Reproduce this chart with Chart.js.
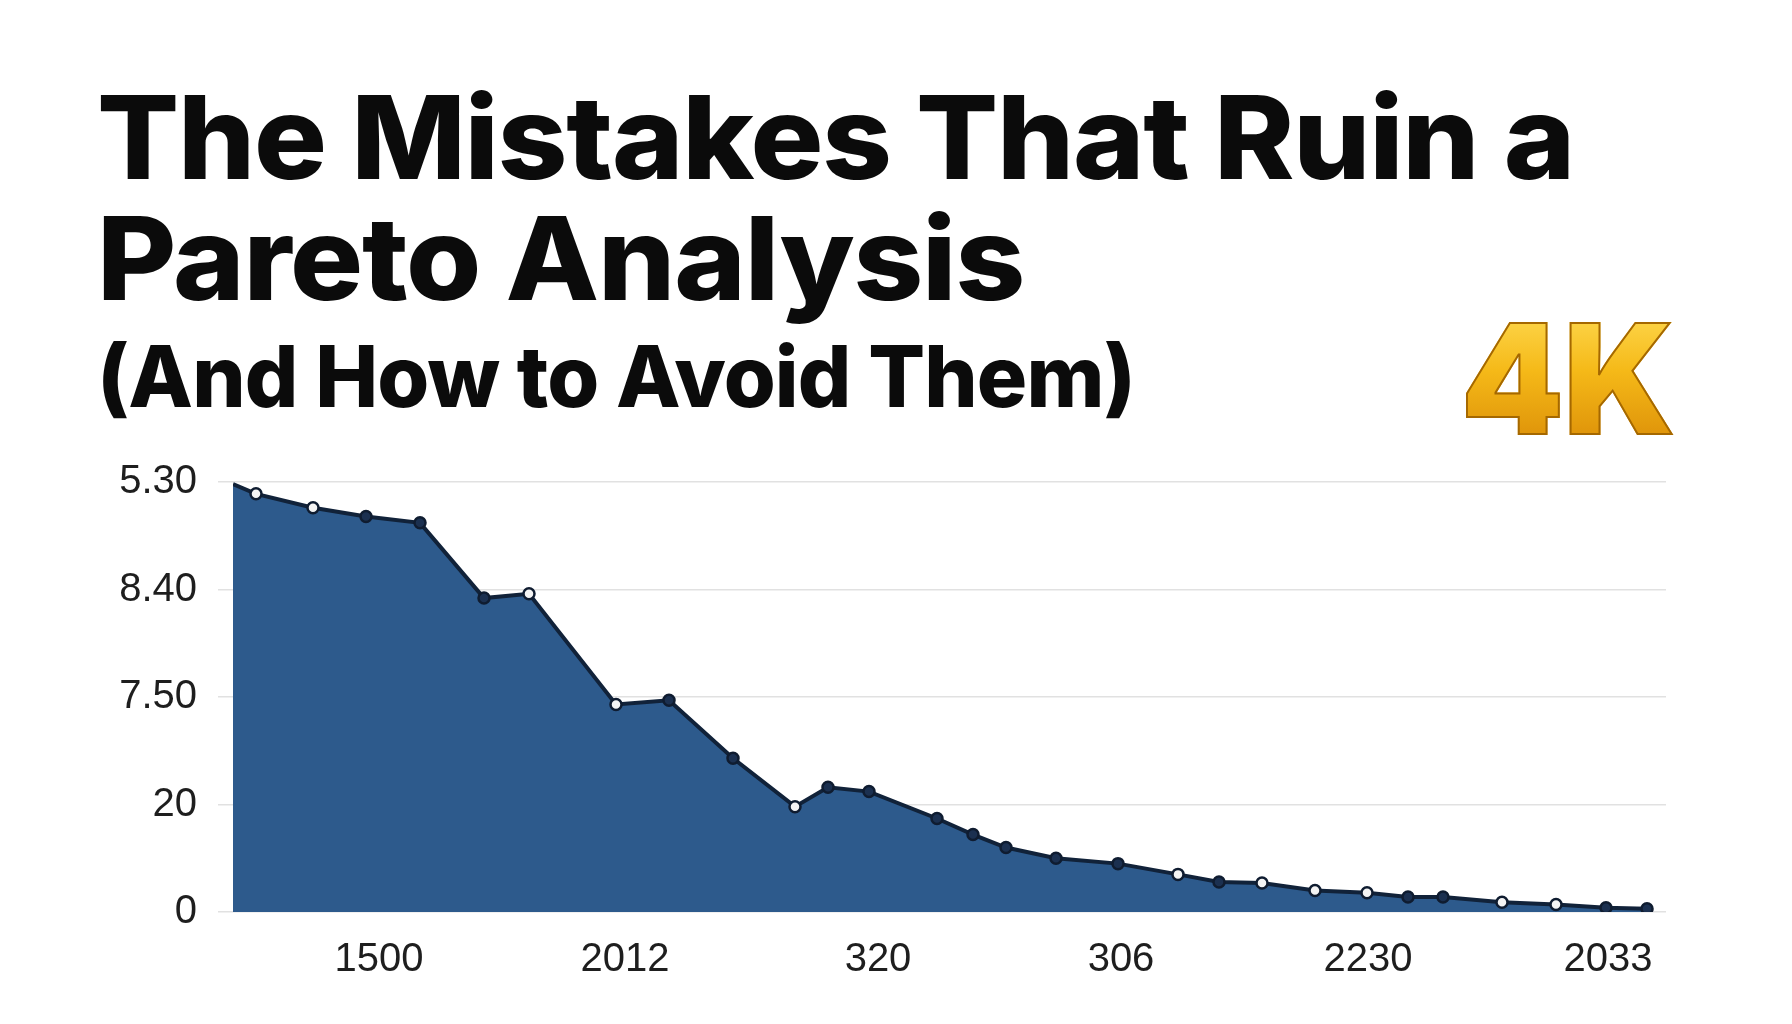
<!DOCTYPE html>
<html>
<head>
<meta charset="utf-8">
<script src="https://cdn.jsdelivr.net/npm/chart.js@4.4.1/dist/chart.umd.min.js"></script>
<style>
  html, body { margin: 0; padding: 0; background: #fff; }
  body { width: 1792px; height: 1024px; position: relative; overflow: hidden; }
  #chartBox { position: absolute; left: 0; top: 0; }
  .title {
    position: absolute;
    left: 97px;
    font-family: Inter, "Noto Sans", sans-serif;
    font-weight: 800;
    color: #0b0b0b;
    line-height: 1;
    white-space: nowrap;
    transform-origin: 0 0;
    letter-spacing: -0.01em;
  }
  #t1 { top: 79px; font-size: 116px; }
  #t2 { top: 200px; font-size: 116px; }
  #t3 { top: 334px; font-size: 85px; }
  #badge {
    position: absolute;
    left: 1461px;
    top: 302px;
    font-family: Inter, "Noto Sans", sans-serif;
    font-weight: 900;
    font-size: 153px;
    line-height: 1;
    white-space: nowrap;
    transform-origin: 0 0;
    background: linear-gradient(180deg, #ffdc55 0%, #f5b918 45%, #d98a06 100%);
    -webkit-background-clip: text;
    background-clip: text;
    color: transparent;
    -webkit-text-stroke: 2px #a56800;
  }
</style>
</head>
<body>
<canvas id="chartBox" width="1792" height="1024"></canvas>
<div class="title" id="t1">The Mistakes That Ruin a</div>
<div class="title" id="t2">Pareto Analysis</div>
<div class="title" id="t3">(And How to Avoid Them)</div>
<div id="badge">4K</div>

<script>
// Values
const xTickLabels = ['1500', '2012', '320', '306', '2230', '2033'];
const xTickPos = [14.6, 39.2, 64.5, 88.8, 113.5, 137.5];
const yTickLabels = ['0', '20', '7.50', '8.40', '5.30'];

const pointX = [0, 2.3, 8.0, 13.3, 18.7, 25.1, 29.6, 38.3, 43.6, 50.0,
  56.2, 59.5, 63.6, 70.4, 74.0, 77.3, 82.3, 88.5, 94.5, 98.6,
  102.9, 108.2, 113.4, 117.5, 121.0, 126.9, 132.3, 137.3, 141.4];
const pointY = [3.98, 3.89, 3.76, 3.68, 3.62, 2.92, 2.96, 1.93, 1.97, 1.43,
  0.98, 1.16, 1.12, 0.87, 0.72, 0.60, 0.50, 0.45, 0.35, 0.28,
  0.27, 0.20, 0.18, 0.14, 0.14, 0.09, 0.07, 0.04, 0.03];

// marker look (not data)
const hollowPoints = [1, 2, 6, 7, 10, 18, 20, 21, 22, 25, 26];

const tickFont = { family: '"Liberation Sans", Arial, sans-serif', size: 40 };

function fitWidth(id, target) {
  const el = document.getElementById(id);
  const w = el.getBoundingClientRect().width;
  el.style.transform = `scaleX(${target / w})`;
}

function layoutTitles() {
  fitWidth('t1', 1477);
  fitWidth('t2', 927);
  fitWidth('t3', 1038);
  fitWidth('badge', 214);
}

function createChart() {
  const ctx = document.getElementById('chartBox');
  new Chart(ctx, {
    type: 'line',
    data: {
      datasets: [{
        data: pointX.map((x, i) => ({ x: x, y: pointY[i] })),
        borderColor: '#112239',
        borderWidth: 4,
        backgroundColor: '#2d5a8c',
        fill: 'origin',
        tension: 0,
        pointRadius: c => c.dataIndex === 0 ? 0 : 5.5,
        pointBorderWidth: 2.5,
        pointBorderColor: '#0f1c30',
        pointBackgroundColor: c => hollowPoints.includes(c.dataIndex) ? '#f4f4f4' : '#1b3050'
      }]
    },
    options: {
      responsive: false,
      animation: false,
      layout: { padding: { top: 482, right: 126, bottom: 0, left: 0 } },
      plugins: {
        legend: { display: false },
        tooltip: { enabled: false }
      },
      scales: {
        x: {
          type: 'linear',
          min: 0,
          max: 143.3,
          afterFit: s => { s.height = 112; },
          afterBuildTicks: s => { s.ticks = xTickPos.map(v => ({ value: v })); },
          ticks: {
            callback: (v, i) => xTickLabels[i],
            autoSkip: false,
            maxRotation: 0,
            padding: 24,
            font: tickFont,
            color: '#1e1e1e'
          },
          grid: { display: false, drawTicks: false },
          border: { display: false }
        },
        y: {
          min: 0,
          max: 4,
          afterFit: s => { s.width = 233; },
          ticks: {
            stepSize: 1,
            callback: v => yTickLabels[v],
            padding: 21,
            font: tickFont,
            color: '#1e1e1e'
          },
          grid: { color: '#e1e1e1', lineWidth: 1.5, tickLength: 15 },
          border: { display: false }
        }
      }
    }
  });
}

layoutTitles();
createChart();
</script>
</body>
</html>
